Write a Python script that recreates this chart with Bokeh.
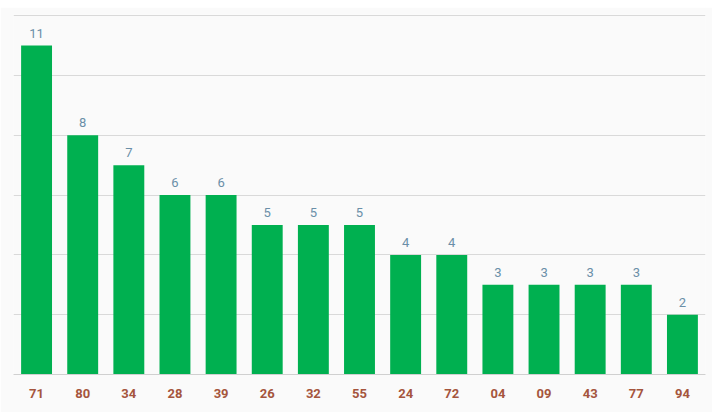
from bokeh.plotting import figure
from bokeh.models import ColumnDataSource, Range1d, Spacer, SingleIntervalTicker
from bokeh.layouts import column
from bokeh.core.properties import value
from bokeh.embed import file_html
from bokeh.resources import INLINE

categories = ["71", "80", "34", "28", "39", "26", "32", "55", "24", "72", "04", "09", "43", "77", "94"]
counts = [11, 8, 7, 6, 6, 5, 5, 5, 4, 4, 3, 3, 3, 3, 2]

src = ColumnDataSource(dict(cat=categories, val=counts, lab=[str(v) for v in counts]))

p = figure(x_range=categories, y_range=Range1d(0, 12.04), width=712, height=405,
           output_backend="svg", toolbar_location=None,
           background_fill_color="#fafafa", border_fill_color="#fafafa",
           min_border_left=13, min_border_right=7, min_border_top=7, min_border_bottom=38)
p.outline_line_color = None

p.vbar(x="cat", top="val", width=0.67, source=src, fill_color="#00b050", line_color=None)
p.text(x="cat", y="val", text="lab", source=src, text_align="center", text_baseline="bottom",
       y_offset=-8, text_font=value("Roboto"), text_font_size="13px", text_color="#6a8fa8")

p.yaxis.visible = False
p.yaxis.ticker = SingleIntervalTicker(interval=2)
p.ygrid.ticker = SingleIntervalTicker(interval=2)
p.ygrid.grid_line_color = "#d9d9d9"
p.xgrid.grid_line_color = None

p.xaxis.axis_line_color = "#d0d0d0"
p.xaxis.major_tick_line_color = None
p.xaxis.minor_tick_line_color = None
p.xaxis.major_label_standoff = 8
p.xaxis.major_label_text_font = "Roboto"
p.xaxis.major_label_text_font_style = "bold"
p.xaxis.major_label_text_font_size = "13px"
p.xaxis.major_label_text_color = "#a5553d"

layout = column(Spacer(height=7, width=712), p, spacing=0)

open("out.html", "w").write(file_html(layout, INLINE))
